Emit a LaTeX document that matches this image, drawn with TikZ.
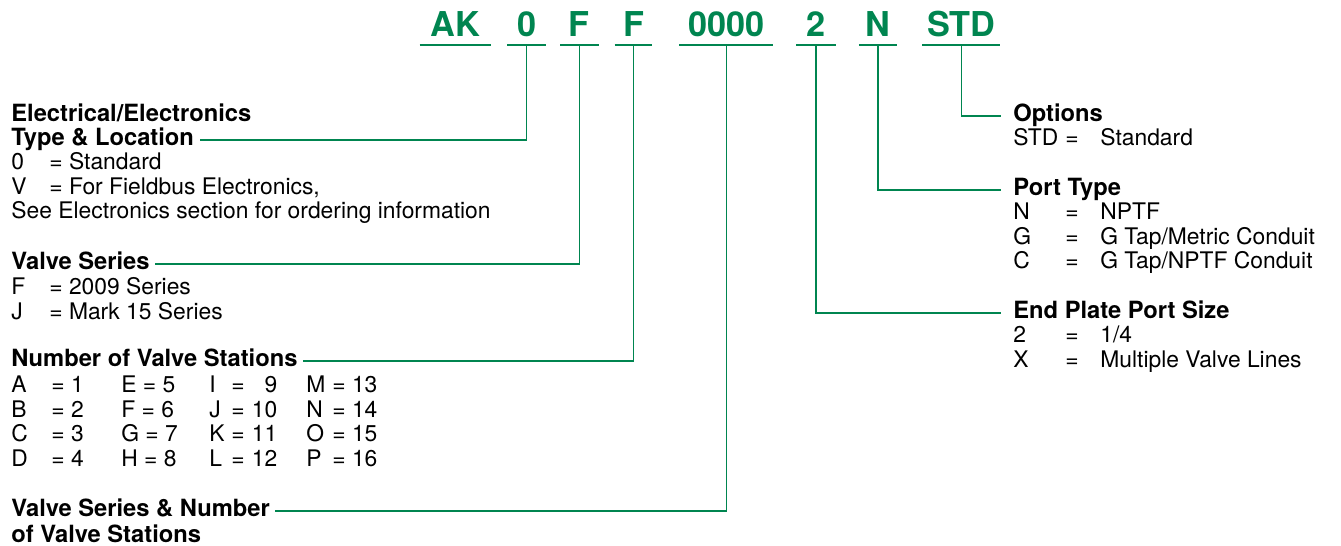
\documentclass[tikz,border=0pt]{standalone}
\usepackage{fontspec}
\setmainfont{TeX Gyre Heros}
\usetikzlibrary{positioning}

\definecolor{vgreen}{RGB}{0,133,80}
\newlength{\px}\setlength{\px}{0.02cm}
\newcommand{\rows}[1]{\begin{tabular}[t]{@{}l@{}}#1\end{tabular}}
\newcommand{\lopt}[2]{\makebox[38\px][l]{#1}= #2}
\newcommand{\ropt}[2]{\makebox[52\px][l]{#1}\makebox[35\px][l]{=}#2}
\newcommand{\stnrow}[8]{\makebox[40\px][l]{#1}\makebox[70\px][l]{= #2}%
  \makebox[88\px][l]{#3 = #4}\makebox[22\px][l]{#5}\makebox[46\px][s]{=\hfill #6}%
  \makebox[29\px]{}\makebox[26\px][l]{#7}= #8}

\begin{document}
\begin{tikzpicture}[x=0.02cm,y=-0.02cm,
  code/.style={font=\fontsize{19.5}{20}\selectfont\bfseries, text=vgreen,
    inner sep=0, text height=15pt, text depth=4.5pt},
  head/.style={font=\fontsize{13.5}{14}\selectfont\bfseries, inner sep=0,
    text height=9.5pt, text depth=2.5pt, anchor=base west},
  body/.style={font=\fontsize{13}{13.9}\selectfont, inner sep=0, anchor=base west},
  link/.style={draw=vgreen, line width=0.8pt, shorten >=3pt}]
  \useasboundingbox (0,0) rectangle (1341,546);

  % model code
  \node[code, minimum width=1.42cm, anchor=base] (c_ak) at (455.5,37) {AK};
  \node[code, minimum width=0.76cm, right=0.32cm of c_ak]  (c_0)   {0};
  \node[code, minimum width=0.76cm, right=0.28cm of c_0]   (c_f)   {F};
  \node[code, minimum width=0.74cm, right=0.32cm of c_f]   (c_ff)  {F};
  \node[code, minimum width=1.86cm, right=0.54cm of c_ff]  (c_num) {0000};
  \node[code, minimum width=0.78cm, right=0.46cm of c_num] (c_2)   {2};
  \node[code, minimum width=0.76cm, right=0.46cm of c_2]   (c_n)   {N};
  \node[code, minimum width=1.54cm, right=0.50cm of c_n]   (c_std) {STD};
  \foreach \c in {c_ak,c_0,c_f,c_ff,c_num,c_2,c_n,c_std}
    \draw[vgreen, line width=1pt] (\c.south west) -- (\c.south east);

  % left column
  \node[head] (h_elec1) at (11,122) {Electrical/Electronics};
  \node[head] (h_elec2) at (11,146) {Type \& Location};
  \node[body] (b_elec) at (11,170) {\rows{\lopt{0}{Standard}\\
    \lopt{V}{For Fieldbus Electronics,}\\
    See Electronics section for ordering information}};

  \node[head] (h_series) at (11,270) {Valve Series};
  \node[body] (b_series) at (11,295) {\rows{\lopt{F}{2009 Series}\\
    \lopt{J}{Mark 15 Series}}};

  \node[head] (h_num) at (11,367) {Number of Valve Stations};
  \node[body] (b_num) at (11,393) {\rows{\stnrow{A}{1}{E}{5}{I}{9}{M}{13}\\
    \stnrow{B}{2}{F}{6}{J}{10}{N}{14}\\
    \stnrow{C}{3}{G}{7}{K}{11}{O}{15}\\
    \stnrow{D}{4}{H}{8}{L}{12}{P}{16}}};

  \node[head] (h_vsn1) at (11,517) {Valve Series \& Number};
  \node[head] (h_vsn2) at (11,542) {of Valve Stations};

  % right column
  \node[head] (h_opt) at (1013,122) {Options};
  \node[body] (b_opt) at (1013,146) {\rows{\ropt{STD}{Standard}}};

  \node[head] (h_port) at (1013,196) {Port Type};
  \node[body] (b_port) at (1013,220) {\rows{\ropt{N}{NPTF}\\
    \ropt{G}{G Tap/Metric Conduit}\\
    \ropt{C}{G Tap/NPTF Conduit}}};

  \node[head] (h_end) at (1013,319) {End Plate Port Size};
  \node[body] (b_end) at (1013,343) {\rows{\ropt{2}{1/4}\\
    \ropt{X}{Multiple Valve Lines}}};

  % leaders
  \draw[link] (c_0.south)   |- (h_elec2.east);
  \draw[link] (c_f.south)   |- (h_series.east);
  \draw[link] (c_ff.south)  |- (h_num.east);
  \draw[link] (c_num.south) |- (h_vsn1.east);
  \draw[link, shorten >=7pt] (c_std.south) |- (h_opt.west);
  \draw[link, shorten >=7pt] (c_n.south)   |- (h_port.west);
  \draw[link, shorten >=7pt] (c_2.south)   |- (h_end.west);
\end{tikzpicture}
\end{document}
